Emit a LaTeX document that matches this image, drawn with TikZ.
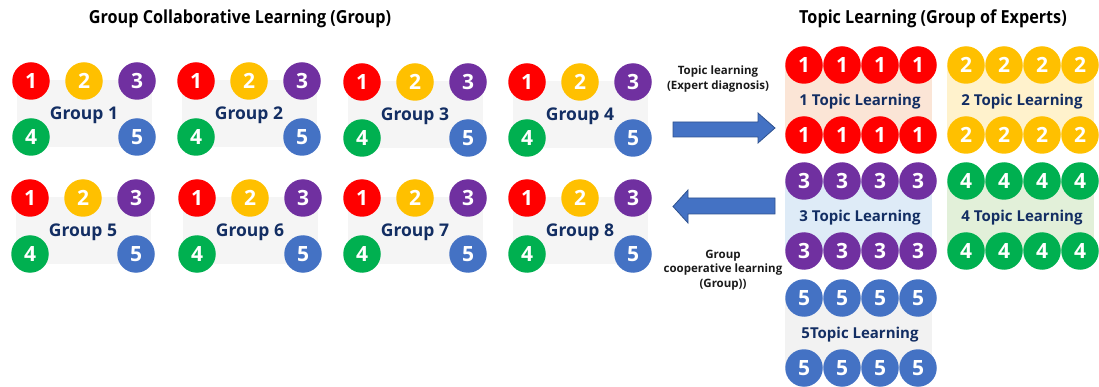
\documentclass[tikz,border=0pt]{standalone}
\usepackage{fontspec}
\usepackage{graphicx}
\setmainfont{Open Sans}

\definecolor{cRed}{HTML}{FF0000}
\definecolor{cYel}{HTML}{FFC000}
\definecolor{cPur}{HTML}{7030A0}
\definecolor{cGrn}{HTML}{00B050}
\definecolor{cBlu}{HTML}{4472C4}
\definecolor{bgA}{HTML}{FBE5D6}
\definecolor{bgB}{HTML}{FFF2CC}
\definecolor{bgC}{HTML}{DEEBF7}
\definecolor{bgD}{HTML}{E2F0D9}
\definecolor{bgE}{HTML}{F2F2F2}
\definecolor{grpbg}{HTML}{F5F5F5}
\definecolor{navy}{HTML}{132E63}
\definecolor{arrowline}{HTML}{2F528F}
\definecolor{ink}{HTML}{1A1A1A}

\newcommand\sqz[2]{\scalebox{#1}[1]{#2}}

\tikzset{
  ball/.style={circle, minimum size=37.5pt, inner sep=0pt, text=white,
    font=\bfseries\fontsize{21}{21}\selectfont},
  grouplabel/.style={text=navy, inner sep=0pt, font=\bfseries\fontsize{17.5}{17.5}\selectfont},
  topiclabel/.style={text=navy, inner sep=0pt, font=\bfseries\fontsize{15}{15}\selectfont},
  headline/.style={text=black, inner sep=0pt, font=\bfseries\fontsize{18}{18}\selectfont},
  note/.style={text=ink, inner sep=0pt, align=center,
    font=\bfseries\fontsize{11.5}{14.5}\selectfont},
  blockarrow/.style={fill=cBlu, draw=arrowline, line width=0.8pt, line join=miter},
}

\begin{document}
\begin{tikzpicture}[x=1pt, y=-1pt]
\useasboundingbox (0,0) rectangle (1099,387);

% headings
\node[headline] (titleL) at (240,19) {\sqz{0.9}{Group Collaborative Learning (Group)}};
\node[headline] (titleR) at (933,19) {\sqz{0.9}{Topic Learning (Group of Experts)}};

% home groups: five members each
\foreach \gx/\gy/\n in {31/81/1, 196/81/2, 362/82/3, 527/82/4,
                        30/198/5, 197/198/6, 362/198/7, 527/198/8}{
  \fill[grpbg] (\gx-14,\gy-1) rectangle (\gx+121,\gy+66);
  \node[ball, fill=cRed] (g\n-1) at (\gx,\gy) {1};
  \node[ball, fill=cYel] (g\n-2) at (\gx+53,\gy) {2};
  \node[ball, fill=cPur] (g\n-3) at (\gx+106,\gy) {3};
  \node[ball, fill=cGrn] (g\n-4) at (\gx,\gy+56) {4};
  \node[ball, fill=cBlu] (g\n-5) at (\gx+106,\gy+56) {5};
  \node[grouplabel] (g\n-lab) at (\gx+53,\gy+34) {Group \n};
}

% expert groups: eight members sharing one topic
\foreach \bx/\by/\n/\col/\bg/\lab in {
    804/65/1/cRed/bgA/{1 Topic Learning},
    966/65/2/cYel/bgB/{2 Topic Learning},
    804/181/3/cPur/bgC/{3 Topic Learning},
    966/181/4/cGrn/bgD/{4 Topic Learning},
    804/298/5/cBlu/bgE/{5Topic Learning}}{
  \fill[\bg] (\bx-19,\by) rectangle (\bx+128,\by+70);
  \foreach \k in {0,1,2,3}{
    \node[ball, fill=\col] (t\n-a\k) at (\bx+38*\k,\by) {\n};
    \node[ball, fill=\col] (t\n-b\k) at (\bx+38*\k,\by+70) {\n};
  }
  \node[topiclabel] (t\n-lab) at (\bx+56,\by+37) {\lab};
}

% block arrows between the two phases
\draw[blockarrow] (673,122) -- (758,122) -- (758,113) -- (775,128)
  -- (758,143) -- (758,137) -- (673,137) -- cycle;
\draw[blockarrow] (775,198) -- (688,198) -- (688,190) -- (673,206.5)
  -- (688,223) -- (688,214) -- (775,214) -- cycle;

\node[note] (toExpert) at (718,79) {Topic learning\\(Expert diagnosis)};
\node[note] (toGroup) at (723,270) {Group\\cooperative learning\\(Group))};
\end{tikzpicture}
\end{document}
